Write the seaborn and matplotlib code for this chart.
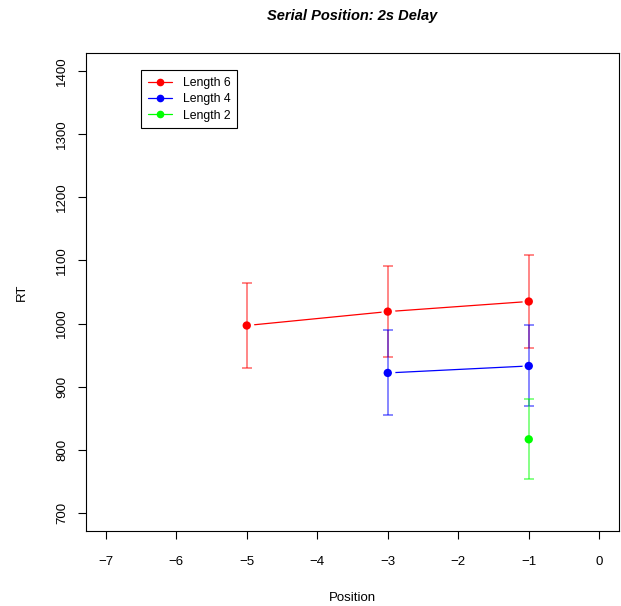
import pandas as pd
import matplotlib.pyplot as plt
import seaborn as sns
from matplotlib.lines import Line2D

# values
lengths = ['Length 6', 'Length 6', 'Length 6', 'Length 4', 'Length 4', 'Length 2']
positions = [-5, -3, -1, -3, -1, -1]
rt_mean = [997, 1019, 1035, 922, 933, 817]
rt_upper = [1064, 1091, 1109, 990, 998, 880]
rt_lower = [930, 947, 962, 855, 869, 755]

series = ['Length 6', 'Length 4', 'Length 2']
colors = {'Length 6': '#ff0000', 'Length 4': '#0000ff', 'Length 2': '#00ff00'}

df = pd.DataFrame({'Length': lengths, 'Position': positions, 'RT': rt_mean,
                   'upper': rt_upper, 'lower': rt_lower})

sns.set_style('white')
plt.rcParams['font.family'] = ['Liberation Sans', 'DejaVu Sans']
plt.rcParams.update({'text.color': 'black', 'axes.labelcolor': 'black',
                     'xtick.color': 'black', 'ytick.color': 'black'})

fig = plt.figure(figsize=(6.21, 6.06), dpi=100)
ax = fig.add_axes([0.1385, 0.1238, 0.8583, 0.7887])

# lines with gaps around points (like R type="b")
sns.lineplot(data=df, x='Position', y='RT', hue='Length', palette=colors,
             hue_order=series, marker='o', markersize=8.5, markeredgecolor='white',
             markerfacecolor='white', markeredgewidth=1.5, linewidth=0.9,
             legend=False, ax=ax, zorder=2)

for name in series:
    sub = df[df.Length == name]
    ax.errorbar(sub.Position, sub.RT,
                yerr=[sub.RT - sub.lower, sub.upper - sub.RT],
                fmt='none', ecolor=colors[name], alpha=0.6, elinewidth=1.1,
                capsize=3.3, capthick=1.1, zorder=3)

sns.scatterplot(data=df, x='Position', y='RT', hue='Length', palette=colors,
                hue_order=series, s=36, linewidth=0, legend=False, ax=ax, zorder=4)

ax.set_xlim(-7.28, 0.28)
ax.set_ylim(672, 1428)
ax.set_xticks(range(-7, 1))
ax.set_xticklabels([f'\u2212{abs(v)}' if v < 0 else str(v) for v in range(-7, 1)])
ax.set_yticks(range(700, 1401, 100))
for lbl in ax.get_yticklabels():
    lbl.set_rotation(90)
    lbl.set_va('center')
ax.tick_params(axis='both', direction='out', length=6, width=0.8, labelsize=9.5,
               bottom=True, left=True)
ax.tick_params(axis='x', pad=12)
ax.tick_params(axis='y', pad=7)
for sp in ax.spines.values():
    sp.set_color('black')
    sp.set_linewidth(0.8)

ax.set_xlabel('Position', fontsize=9.5, labelpad=17)
ax.set_ylabel('RT', fontsize=9.5, labelpad=20)
ax.set_title('Serial Position: 2s Delay', fontsize=10.5, fontweight='bold',
             fontstyle='italic', pad=24)

handles = [Line2D([0], [0], color=colors[n], marker='o', markersize=4.5, lw=0.9)
           for n in series]
ax.legend(handles, series, loc='upper left', bbox_to_anchor=(0.103, 0.964),
          borderaxespad=0, fancybox=False, edgecolor='black', framealpha=1,
          fontsize=8.8, handlelength=2.0, labelspacing=0.35, borderpad=0.55,
          handletextpad=0.9)
ax.get_legend().get_frame().set_linewidth(0.8)

fig.savefig('out.png', dpi=100)
